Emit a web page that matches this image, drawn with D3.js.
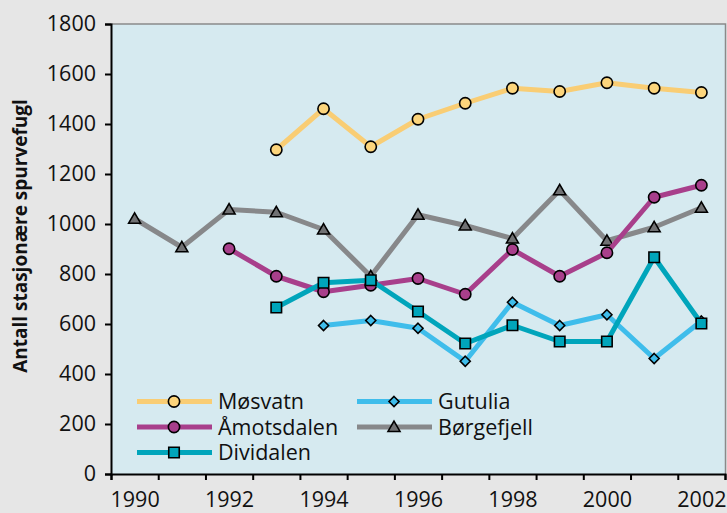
<!DOCTYPE html>
<html>
<head>
<meta charset="utf-8">
<script src="https://cdn.jsdelivr.net/npm/d3@7"></script>
<style>
  body { margin: 0; background: #e6e6e6; }
  svg { display: block; font-family: "Open Sans", sans-serif; }
</style>
</head>
<body>
<svg width="727" height="513"></svg>
<script>
// data
const years = [1990, 1991, 1992, 1993, 1994, 1995, 1996, 1997, 1998, 1999, 2000, 2001, 2002];
const mosvatn    = [null, null, null, 1297, 1461, 1309, 1419, 1483, 1543, 1530, 1565, 1543, 1526];
const borgefjell = [1021, 907, 1058, 1047, 978, 791, 1037, 994, 942, 1135, 933, 987, 1065];
const amotsdalen = [null, null, 901, 791, 729, 755, 782, 719, 898, 791, 885, 1107, 1155];
const gutulia    = [null, null, null, null, 594, 614, 583, 451, 687, 594, 637, 462, 612];
const dividalen  = [null, null, null, 666, 765, 775, 650, 522, 595, 530, 530, 867, 602];
const yTicks = [0, 200, 400, 600, 800, 1000, 1200, 1400, 1600, 1800];
const xLabels = [1990, 1992, 1994, 1996, 1998, 2000, 2002];

const series = [
  {name: "Møsvatn",    values: mosvatn,    color: "#f9cd74", fill: "#fcd57c", shape: "circle"},
  {name: "Børgefjell", values: borgefjell, color: "#87888a", fill: "#707173", shape: "triangle"},
  {name: "Åmotsdalen", values: amotsdalen, color: "#a83f8b", fill: "#a83f8b", shape: "circle"},
  {name: "Gutulia",    values: gutulia,    color: "#3fbdeb", fill: "#3fbdeb", shape: "diamond"},
  {name: "Dividalen",  values: dividalen,  color: "#00a5bb", fill: "#00a5bb", shape: "square"}
];

const svg = d3.select("svg");
const plotLeft = 111, plotRight = 725, plotTop = 24, plotBottom = 474;

const x = d3.scaleLinear().domain([1989.5, 2002.5]).range([plotLeft, plotRight]);
const y = d3.scaleLinear().domain([0, 1800]).range([plotBottom, plotTop]);

// plot background
svg.append("rect")
  .attr("x", plotLeft).attr("y", plotTop)
  .attr("width", plotRight - plotLeft).attr("height", plotBottom - plotTop)
  .attr("fill", "#d6eaf0");
svg.append("path")
  .attr("d", `M${plotLeft},${plotTop}H${plotRight + 0.5}V${plotBottom}`)
  .attr("fill", "none").attr("stroke", "#8a8a8a").attr("stroke-width", 1.5);

// shapes
const symbols = {
  circle: d3.symbol(d3.symbolCircle, 100),
  square: d3.symbol(d3.symbolSquare, 110),
  diamond: d3.symbol(d3.symbolDiamond2, 64),
  triangle: d3.symbol(d3.symbolTriangle, 62)
};

const line = d3.line()
  .defined(d => d.v != null)
  .x(d => x(d.year))
  .y(d => y(d.v));

series.forEach(s => {
  const pts = years.map((yr, i) => ({year: yr, v: s.values[i]}));
  svg.append("path")
    .datum(pts)
    .attr("fill", "none")
    .attr("stroke", s.color)
    .attr("stroke-width", 5)
    .attr("stroke-linejoin", "round")
    .attr("d", line);
  svg.append("g").selectAll("path")
    .data(pts.filter(d => d.v != null))
    .join("path")
    .attr("transform", d => `translate(${x(d.year)},${y(d.v) + (s.shape === "triangle" ? 1 : 0)})`)
    .attr("d", symbols[s.shape]())
    .attr("fill", s.fill)
    .attr("stroke", "#000")
    .attr("stroke-width", 1.6);
});

// axes
const yAxis = svg.append("g")
  .attr("transform", `translate(${plotLeft},0)`)
  .call(d3.axisLeft(y).tickValues(yTicks).tickSize(6).tickPadding(9).tickFormat(d3.format("d")));

const xTickAxis = svg.append("g")
  .attr("transform", `translate(0,${plotBottom})`)
  .call(d3.axisBottom(x).tickValues(years.map(v => v - 0.5).concat([2002.5])).tickSize(6).tickFormat(""));

const xLabelAxis = svg.append("g")
  .attr("transform", `translate(0,${plotBottom})`)
  .call(d3.axisBottom(x).tickValues(xLabels).tickSize(0).tickPadding(18).tickFormat(d3.format("d")));
xLabelAxis.select(".domain").remove();

[yAxis, xTickAxis].forEach(g => {
  g.select(".domain").attr("stroke", "#000").attr("stroke-width", 2);
  g.selectAll(".tick line").attr("stroke", "#000").attr("stroke-width", 2);
});
svg.selectAll(".tick text")
  .attr("font-size", 21.5)
  .attr("font-family", "Open Sans, sans-serif")
  .attr("fill", "#111");

svg.append("text")
  .attr("transform", "translate(27,236) rotate(-90)")
  .attr("text-anchor", "middle")
  .attr("font-size", 19)
  .attr("font-weight", "bold")
  .attr("fill", "#111")
  .text("Antall stasjonære spurvefugl");

// legend
const legendItems = [
  {s: series[0], col: 0, row: 0},
  {s: series[2], col: 0, row: 1},
  {s: series[4], col: 0, row: 2},
  {s: series[3], col: 1, row: 0},
  {s: series[1], col: 1, row: 1}
];
const legend = svg.append("g");
legendItems.forEach(it => {
  const lx = it.col === 0 ? 137 : 357;
  const ly = 401.5 + it.row * 25.5;
  const g = legend.append("g").attr("transform", `translate(${lx},${ly})`);
  g.append("line")
    .attr("x1", 0).attr("x2", 75)
    .attr("stroke", it.s.color).attr("stroke-width", 5);
  g.append("path")
    .attr("transform", `translate(37,${it.s.shape === "triangle" ? 1 : 0})`)
    .attr("d", symbols[it.s.shape]())
    .attr("fill", it.s.fill).attr("stroke", "#000").attr("stroke-width", 1.6);
  g.append("text")
    .attr("x", 81).attr("y", 7.5)
    .attr("font-size", 21.5)
    .attr("fill", "#111")
    .text(it.s.name);
});
</script>
</body>
</html>
